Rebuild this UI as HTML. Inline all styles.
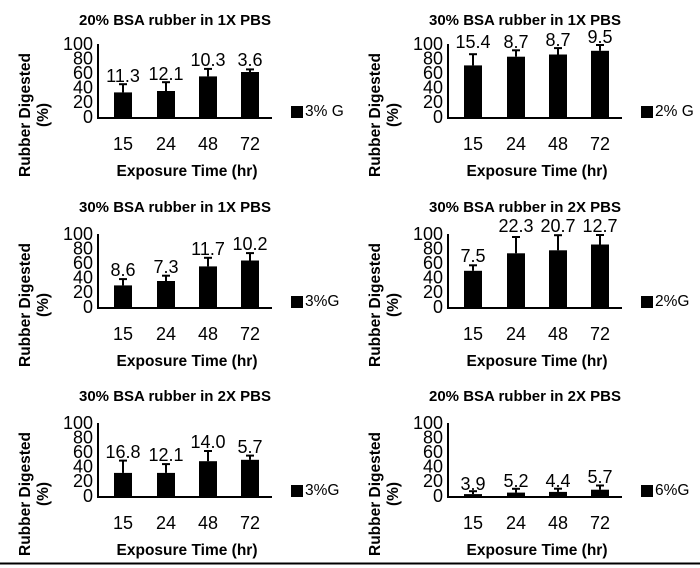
<!DOCTYPE html>
<html><head><meta charset="utf-8"><style>
html,body{margin:0;padding:0;background:#fff;}
svg{display:block;font-family:"Liberation Sans",sans-serif;}
.t{font-weight:bold;font-size:15px;text-anchor:middle;}
.yl{font-size:18px;text-anchor:end;dominant-baseline:middle;}
.xl{font-size:18px;text-anchor:middle;}
.v{font-size:18px;text-anchor:middle;}
.at{font-weight:bold;font-size:15.5px;text-anchor:middle;}
.lg{font-size:15.5px;dominant-baseline:middle;}
</style></head><body>
<svg width="700" height="568" viewBox="0 0 700 568">
<defs>
<g id="ax">
<line x1="98" y1="44" x2="98" y2="119" stroke="#000" stroke-width="2"/>
<line x1="97" y1="118" x2="272" y2="118" stroke="#000" stroke-width="2"/>
<text class="yl" x="93" y="45">100</text>
<text class="yl" x="93" y="59.6">80</text>
<text class="yl" x="93" y="74.2">60</text>
<text class="yl" x="93" y="88.8">40</text>
<text class="yl" x="93" y="103.4">20</text>
<text class="yl" x="93" y="118">0</text>
<text class="xl" x="123" y="150">15</text>
<text class="xl" x="166" y="150">24</text>
<text class="xl" x="208" y="150">48</text>
<text class="xl" x="250" y="150">72</text>
<text class="at" x="187" y="176">Exposure Time (hr)</text>
<text class="at" transform="translate(30,115) rotate(-90)">Rubber Digested</text>
<text class="at" transform="translate(48,115) rotate(-90)">(%)</text>
<rect x="291" y="106" width="12" height="12" fill="#000"/>
</g>
</defs>

<g>
<use href="#ax"/>
<text class="t" x="175" y="25">20% BSA rubber in 1X PBS</text>
<text class="lg" x="305" y="112">3% G</text>
<g fill="#000" stroke="#000" stroke-width="2">
<rect x="114" y="92.4" width="18" height="25.6" stroke="none"/><line x1="123" y1="92.4" x2="123" y2="84.2"/><line x1="119" y1="84.2" x2="127" y2="84.2"/>
<rect x="157" y="91" width="18" height="27" stroke="none"/><line x1="166" y1="91" x2="166" y2="82.2"/><line x1="162" y1="82.2" x2="170" y2="82.2"/>
<rect x="199" y="76.4" width="18" height="41.6" stroke="none"/><line x1="208" y1="76.4" x2="208" y2="68.9"/><line x1="204" y1="68.9" x2="212" y2="68.9"/>
<rect x="241" y="72" width="18" height="46" stroke="none"/><line x1="250" y1="72" x2="250" y2="69.4"/><line x1="246" y1="69.4" x2="254" y2="69.4"/>
</g>
<text class="v" x="123" y="82">11.3</text><text class="v" x="166" y="80">12.1</text><text class="v" x="208" y="66">10.3</text><text class="v" x="250" y="66">3.6</text>
</g>

<g transform="translate(350,0)">
<use href="#ax"/>
<text class="t" x="175" y="25">30% BSA rubber in 1X PBS</text>
<text class="lg" x="305" y="112">2% G</text>
<g fill="#000" stroke="#000" stroke-width="2">
<rect x="114" y="65.4" width="18" height="52.6" stroke="none"/><line x1="123" y1="65.4" x2="123" y2="54.2"/><line x1="119" y1="54.2" x2="127" y2="54.2"/>
<rect x="157" y="56.7" width="18" height="61.3" stroke="none"/><line x1="166" y1="56.7" x2="166" y2="50.3"/><line x1="162" y1="50.3" x2="170" y2="50.3"/>
<rect x="199" y="54.5" width="18" height="63.5" stroke="none"/><line x1="208" y1="54.5" x2="208" y2="48.1"/><line x1="204" y1="48.1" x2="212" y2="48.1"/>
<rect x="241" y="50.8" width="18" height="67.2" stroke="none"/><line x1="250" y1="50.8" x2="250" y2="45"/><line x1="246" y1="45" x2="254" y2="45"/>
</g>
<text class="v" x="123" y="48">15.4</text><text class="v" x="166" y="48">8.7</text><text class="v" x="208" y="46">8.7</text><text class="v" x="250" y="43">9.5</text>
</g>

<g transform="translate(0,190)">
<use href="#ax"/>
<text class="t" x="175" y="22">30% BSA rubber in 1X PBS</text>
<text class="lg" x="305" y="112">3%G</text>
<g fill="#000" stroke="#000" stroke-width="2">
<rect x="114" y="95.4" width="18" height="22.6" stroke="none"/><line x1="123" y1="95.4" x2="123" y2="89.1"/><line x1="119" y1="89.1" x2="127" y2="89.1"/>
<rect x="157" y="91" width="18" height="27" stroke="none"/><line x1="166" y1="91" x2="166" y2="85.7"/><line x1="162" y1="85.7" x2="170" y2="85.7"/>
<rect x="199" y="76.4" width="18" height="41.6" stroke="none"/><line x1="208" y1="76.4" x2="208" y2="67.8"/><line x1="204" y1="67.8" x2="212" y2="67.8"/>
<rect x="241" y="70.5" width="18" height="47.5" stroke="none"/><line x1="250" y1="70.5" x2="250" y2="63.1"/><line x1="246" y1="63.1" x2="254" y2="63.1"/>
</g>
<text class="v" x="123" y="86">8.6</text><text class="v" x="166" y="83">7.3</text><text class="v" x="208" y="65">11.7</text><text class="v" x="250" y="60">10.2</text>
</g>

<g transform="translate(350,190)">
<use href="#ax"/>
<text class="t" x="175" y="22">30% BSA rubber in 2X PBS</text>
<text class="lg" x="305" y="112">2%G</text>
<g fill="#000" stroke="#000" stroke-width="2">
<rect x="114" y="80.8" width="18" height="37.2" stroke="none"/><line x1="123" y1="80.8" x2="123" y2="75.3"/><line x1="119" y1="75.3" x2="127" y2="75.3"/>
<rect x="157" y="63.3" width="18" height="54.7" stroke="none"/><line x1="166" y1="63.3" x2="166" y2="47"/><line x1="162" y1="47" x2="170" y2="47"/>
<rect x="199" y="60.3" width="18" height="57.7" stroke="none"/><line x1="208" y1="60.3" x2="208" y2="45.2"/><line x1="204" y1="45.2" x2="212" y2="45.2"/>
<rect x="241" y="54.5" width="18" height="63.5" stroke="none"/><line x1="250" y1="54.5" x2="250" y2="45"/><line x1="246" y1="45" x2="254" y2="45"/>
</g>
<text class="v" x="123" y="72">7.5</text><text class="v" x="166" y="42">22.3</text><text class="v" x="208" y="42">20.7</text><text class="v" x="250" y="42">12.7</text>
</g>

<g transform="translate(0,379)">
<use href="#ax"/>
<text class="t" x="175" y="22">30% BSA rubber in 2X PBS</text>
<text class="lg" x="305" y="112">3%G</text>
<g fill="#000" stroke="#000" stroke-width="2">
<rect x="114" y="93.9" width="18" height="24.1" stroke="none"/><line x1="123" y1="93.9" x2="123" y2="81.6"/><line x1="119" y1="81.6" x2="127" y2="81.6"/>
<rect x="157" y="93.9" width="18" height="24.1" stroke="none"/><line x1="166" y1="93.9" x2="166" y2="85.1"/><line x1="162" y1="85.1" x2="170" y2="85.1"/>
<rect x="199" y="82.2" width="18" height="35.8" stroke="none"/><line x1="208" y1="82.2" x2="208" y2="72"/><line x1="204" y1="72" x2="212" y2="72"/>
<rect x="241" y="80.8" width="18" height="37.2" stroke="none"/><line x1="250" y1="80.8" x2="250" y2="76.6"/><line x1="246" y1="76.6" x2="254" y2="76.6"/>
</g>
<text class="v" x="123" y="79">16.8</text><text class="v" x="166" y="82">12.1</text><text class="v" x="208" y="69">14.0</text><text class="v" x="250" y="74">5.7</text>
</g>

<g transform="translate(350,379)">
<use href="#ax"/>
<text class="t" x="175" y="22">20% BSA rubber in 2X PBS</text>
<text class="lg" x="305" y="112">6%G</text>
<g fill="#000" stroke="#000" stroke-width="2">
<rect x="114" y="115.1" width="18" height="2.9" stroke="none"/><line x1="123" y1="115.1" x2="123" y2="112.2"/><line x1="119" y1="112.2" x2="127" y2="112.2"/>
<rect x="157" y="113.6" width="18" height="4.4" stroke="none"/><line x1="166" y1="113.6" x2="166" y2="109.8"/><line x1="162" y1="109.8" x2="170" y2="109.8"/>
<rect x="199" y="112.9" width="18" height="5.1" stroke="none"/><line x1="208" y1="112.9" x2="208" y2="109.7"/><line x1="204" y1="109.7" x2="212" y2="109.7"/>
<rect x="241" y="110.7" width="18" height="7.3" stroke="none"/><line x1="250" y1="110.7" x2="250" y2="106.5"/><line x1="246" y1="106.5" x2="254" y2="106.5"/>
</g>
<text class="v" x="123" y="111">3.9</text><text class="v" x="166" y="108">5.2</text><text class="v" x="208" y="108">4.4</text><text class="v" x="250" y="104">5.7</text>
</g>

<line x1="0" y1="563.5" x2="700" y2="563.5" stroke="#000" stroke-width="2"/>
</svg>
</body></html>
